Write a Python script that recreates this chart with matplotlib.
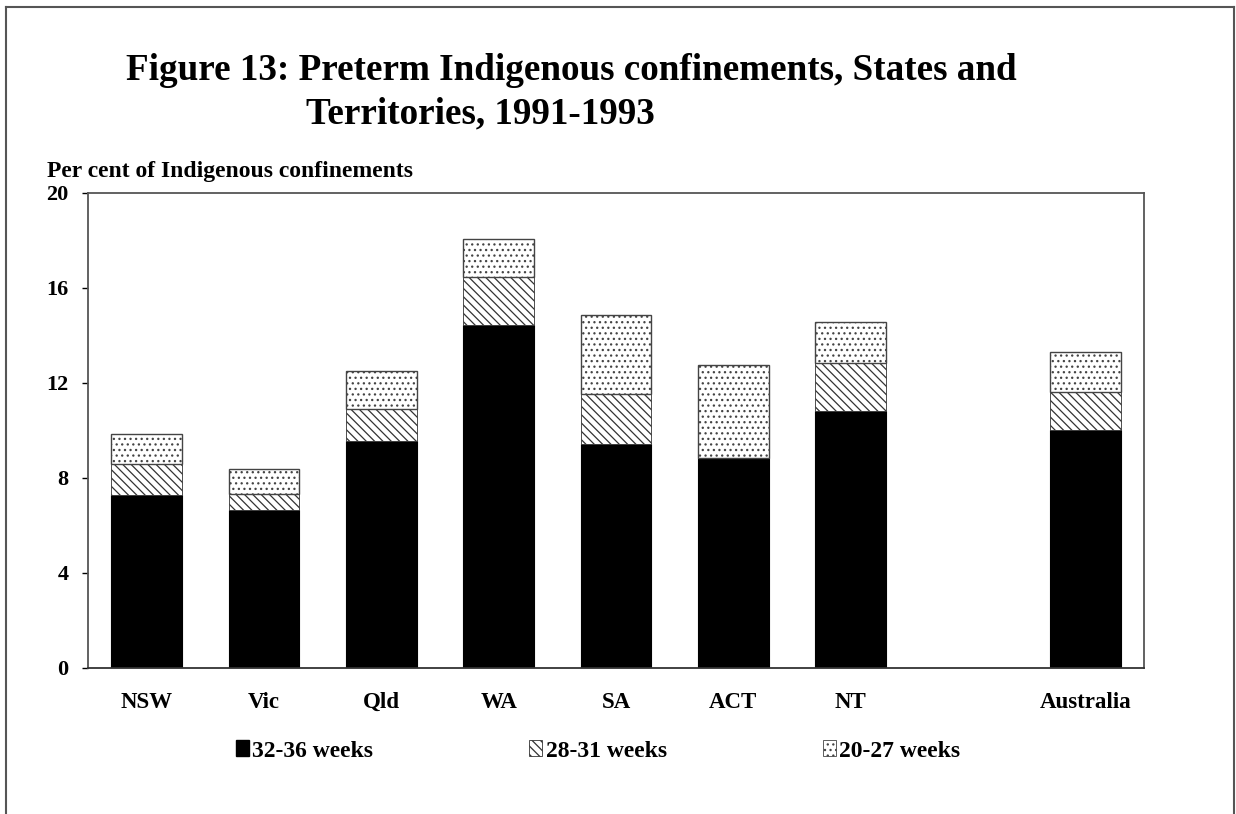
import numpy as np
import matplotlib.pyplot as plt
from matplotlib.patches import Patch
from matplotlib.lines import Line2D

states = ["NSW", "Vic", "Qld", "WA", "SA", "ACT", "NT", "Australia"]
x_pos = [0, 1, 2, 3, 4, 5, 6, 8]
w32_36 = [7.3, 6.65, 9.55, 14.45, 9.45, 8.85, 10.8, 10.0]
w28_31 = [1.3, 0.66, 1.35, 2.0, 2.1, 0.0, 2.05, 1.6]
w20_27 = [1.25, 1.06, 1.6, 1.6, 3.3, 3.9, 1.7, 1.7]
series_labels = ["32-36 weeks", "28-31 weeks", "20-27 weeks"]
yticks = [0, 4, 8, 12, 16, 20]

plt.rcParams['font.family'] = ['Liberation Serif', 'DejaVu Serif']
plt.rcParams['font.weight'] = 'bold'
plt.rcParams['hatch.linewidth'] = 0.9

fig = plt.figure(figsize=(12.36, 8.14), dpi=100)
ax = fig.add_axes([0.0712, 0.1794, 0.8544, 0.5835])

width = 0.6
b1 = np.array(w32_36)
b2 = b1 + np.array(w28_31)
ax.bar(x_pos, w32_36, width, color='black', edgecolor='black', linewidth=0.8)
ax.bar(x_pos, w28_31, width, bottom=b1, color='white', edgecolor='#333333',
       hatch='\\\\\\\\', linewidth=0.6)
ax.bar(x_pos, w20_27, width, bottom=b2, color='white', edgecolor='#444444',
       hatch='...', linewidth=1.0)

ax.set_xlim(-0.5, 8.5)
ax.set_ylim(0, 20)
ax.set_yticks(yticks)
ax.set_xticks(x_pos)
ax.set_xticklabels(states, va='baseline')
ax.tick_params(axis='x', length=0, pad=29, labelsize=16.5)
ax.tick_params(axis='y', length=4, width=1, pad=10, labelsize=16, direction='out')
for s in ax.spines.values():
    s.set_color('#555555')
    s.set_linewidth(1.3)
ax.spines['bottom'].set_color('#333333')

fig.text(126 / 1236, 1 - 80 / 814, "Figure 13: Preterm Indigenous confinements, States and",
         fontsize=26.7, fontweight='bold', ha='left', va='baseline')
fig.text(306 / 1236, 1 - 123 / 814, "Territories, 1991-1993",
         fontsize=26.7, fontweight='bold', ha='left', va='baseline')
fig.text(47 / 1236, 1 - 177 / 814, "Per cent of Indigenous confinements",
         fontsize=17, fontweight='bold', ha='left', va='baseline')

handles = [
    Patch(facecolor='black', edgecolor='black'),
    Patch(facecolor='white', edgecolor='#333333', hatch='\\\\\\\\', linewidth=0.6),
    Patch(facecolor='white', edgecolor='#444444', hatch='...', linewidth=0.6),
]
fig.legend(handles, series_labels, loc='center', bbox_to_anchor=(598 / 1236, 1 - 751 / 814),
           ncol=3, frameon=False, fontsize=17, handlelength=0.55, handleheight=0.65,
           handletextpad=0.15, columnspacing=6.6)

# outer frame of the scanned figure
frame_kw = dict(color='#555555', linewidth=1.5, transform=fig.transFigure)
fig.add_artist(Line2D([6 / 1236, 6 / 1236], [0, 1 - 7 / 814], **frame_kw))
fig.add_artist(Line2D([6 / 1236, 1234 / 1236], [1 - 7 / 814, 1 - 7 / 814], **frame_kw))
fig.add_artist(Line2D([1234 / 1236, 1234 / 1236], [0, 1 - 7 / 814], **frame_kw))

fig.savefig("out.png", dpi=100)
